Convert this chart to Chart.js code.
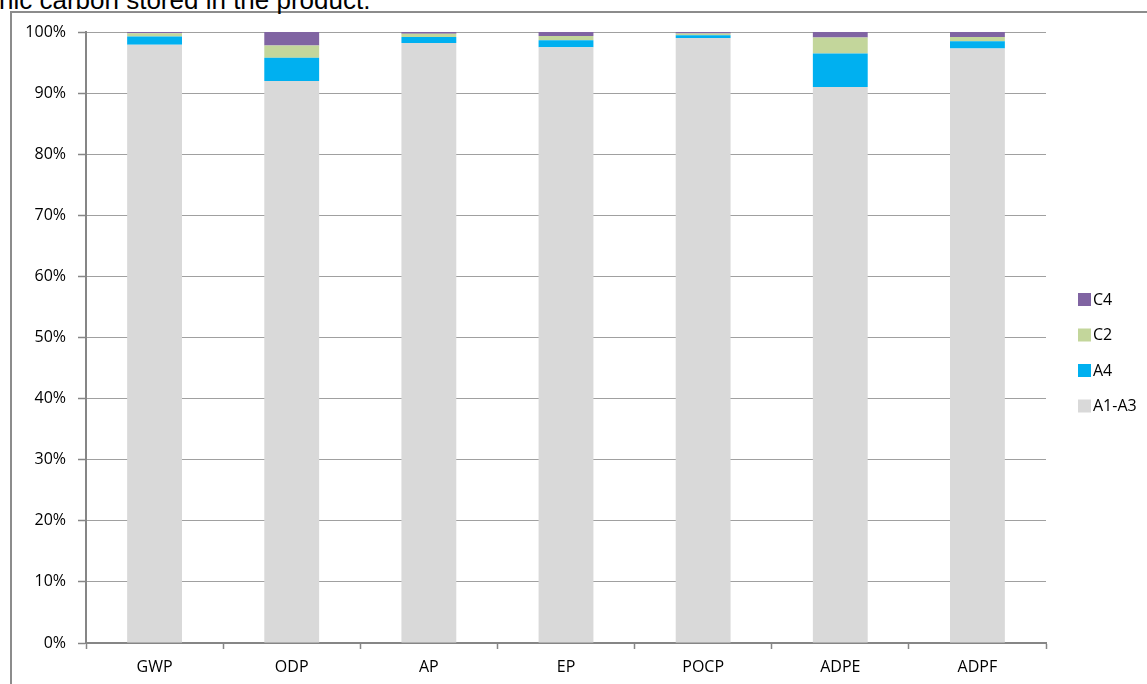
<!DOCTYPE html>
<html>
<head>
<meta charset="utf-8">
<script src="https://cdn.jsdelivr.net/npm/chart.js@4/dist/chart.umd.min.js"></script>
<style>
  html, body { margin: 0; padding: 0; background: #fff; overflow: hidden; }
  #wrap { position: relative; width: 1147px; height: 684px; }
  #frame { position: absolute; left: 10px; top: 11px; width: 1150px; height: 700px;
           border-left: 2px solid #8c8c8c; border-top: 2px solid #8c8c8c; }
  #note { position: absolute; left: -1px; top: -13px; font: 26px "Liberation Sans", Arial, sans-serif;
          line-height: 26px; white-space: nowrap; color: #000; }
  #box { position: absolute; left: 0; top: 0; width: 1147px; height: 684px; }
</style>
</head>
<body>
<div id="wrap">
  <div id="frame"></div>
  <div id="note">nic carbon stored in the product.</div>
  <div id="box"><canvas id="lcaChart"></canvas></div>
</div>
<script>
var categories = ['GWP', 'ODP', 'AP', 'EP', 'POCP', 'ADPE', 'ADPF'];
var a1a3 = [97.9, 92.0, 98.2, 97.5, 99.0, 91.0, 97.3];
var a4 = [1.35, 3.8, 1.0, 1.15, 0.45, 5.5, 1.2];
var c2 = [0.55, 2.0, 0.5, 0.7, 0.3, 2.6, 0.7];
var c4 = [0.2, 2.2, 0.3, 0.65, 0.25, 0.9, 0.8];
var yTicks = [0, 10, 20, 30, 40, 50, 60, 70, 80, 90, 100];

var font = '"Open Sans", sans-serif';

// legend drawn at the right, top entry = last dataset
var sideLegend = {
  id: 'sideLegend',
  afterDraw: function(chart) {
    var ctx = chart.ctx;
    var sets = chart.data.datasets.slice().reverse();
    ctx.save();
    ctx.font = '16px ' + font;
    ctx.textBaseline = 'middle';
    for (var i = 0; i < sets.length; i++) {
      var y = 299 + i * 35.5;
      ctx.fillStyle = sets[i].backgroundColor;
      ctx.fillRect(1078, y - 6, 13, 13);
      ctx.fillStyle = '#000';
      ctx.fillText(sets[i].label, 1093, y + 1);
    }
    ctx.restore();
  }
};

var ctx = document.getElementById('lcaChart').getContext('2d');
var chart = new Chart(ctx, {
  type: 'bar',
  data: {
    labels: categories,
    datasets: [
      { label: 'A1-A3', data: a1a3, backgroundColor: '#d9d9d9' },
      { label: 'A4', data: a4, backgroundColor: '#00b0f0' },
      { label: 'C2', data: c2, backgroundColor: '#c3d69b' },
      { label: 'C4', data: c4, backgroundColor: '#8064a2' }
    ]
  },
  options: {
    responsive: true,
    maintainAspectRatio: false,
    animation: false,
    devicePixelRatio: 1,
    layout: { padding: { left: 0, right: 101, top: 32, bottom: 0 } },
    datasets: { bar: { barPercentage: 0.4, categoryPercentage: 1, borderWidth: 0 } },
    plugins: { legend: { display: false }, tooltip: { enabled: false } },
    scales: {
      x: {
        stacked: true,
        afterFit: function(scale) { scale.height = 41; },
        border: { color: '#868686', width: 2 },
        grid: { offset: true, drawOnChartArea: false, drawTicks: true, tickLength: 6,
                tickColor: '#868686', tickWidth: 1.5 },
        ticks: { color: '#000', font: { family: font, size: 16 }, padding: 9 }
      },
      y: {
        stacked: true,
        min: 0,
        max: 100,
        afterFit: function(scale) { scale.width = 86; },
        afterBuildTicks: function(scale) {
          scale.ticks = yTicks.map(function(v) { return { value: v }; });
        },
        border: { color: '#868686', width: 2 },
        grid: {
          color: function(c) { return c.tick && c.tick.value === 0 ? 'rgba(0,0,0,0)' : '#a0a0a0'; },
          lineWidth: 1,
          borderDash: [1, 2],
          drawTicks: true,
          tickLength: 8,
          tickColor: '#868686',
          tickWidth: 1.5,
          tickBorderDash: []
        },
        ticks: {
          color: '#000',
          font: { family: font, size: 16 },
          padding: 12,
          callback: function(v) { return v + '%'; }
        }
      }
    }
  },
  plugins: [sideLegend]
});
</script>
</body>
</html>
